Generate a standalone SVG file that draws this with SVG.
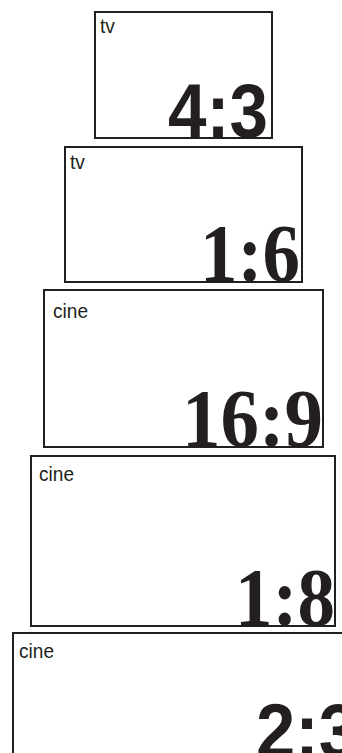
<svg xmlns="http://www.w3.org/2000/svg" width="342" height="753" viewBox="0 0 342 753">
<style>
.frame{fill:#fff;stroke:#231f20;stroke-width:2}
.lbl{font-family:"Liberation Sans Narrow","Liberation Sans",sans-serif;font-size:21px;fill:#231f20}
.big{font-family:"Liberation Sans",Arial,sans-serif;font-weight:bold;font-size:76px;fill:#231f20;text-anchor:end}
.bigs{font-family:"Liberation Serif","Times New Roman",serif;font-weight:bold;font-size:82px;fill:#231f20;text-anchor:end}
</style>
<rect width="342" height="753" fill="#fff"/>
<g id="tv43">
<rect class="frame" x="95" y="12" width="177" height="126"/>
<text class="lbl" x="100" y="33" textLength="15" lengthAdjust="spacingAndGlyphs">tv</text>
<text class="big" x="268" y="137" textLength="100" lengthAdjust="spacingAndGlyphs">4:3</text>
</g>
<g id="tv16">
<rect class="frame" x="65" y="147" width="237" height="135"/>
<text class="lbl" x="70" y="169" textLength="15" lengthAdjust="spacingAndGlyphs">tv</text>
<text class="bigs" x="300" y="281" textLength="100" lengthAdjust="spacingAndGlyphs">1:6</text>
</g>
<g id="cine169">
<rect class="frame" x="44" y="290" width="279" height="157"/>
<text class="lbl" x="53" y="318" textLength="35" lengthAdjust="spacingAndGlyphs">cine</text>
<text class="bigs" x="323" y="446" textLength="141" lengthAdjust="spacingAndGlyphs">16:9</text>
</g>
<g id="cine18">
<rect class="frame" x="31" y="456" width="304" height="170"/>
<text class="lbl" x="39" y="481" textLength="35" lengthAdjust="spacingAndGlyphs">cine</text>
<text class="bigs" x="335" y="625" textLength="100" lengthAdjust="spacingAndGlyphs">1:8</text>
</g>
<g id="cine23">
<rect class="frame" x="13" y="633" width="345" height="140"/>
<text class="lbl" x="19" y="658" textLength="35" lengthAdjust="spacingAndGlyphs">cine</text>
<text class="big" x="358" y="757" textLength="102" lengthAdjust="spacingAndGlyphs">2:3</text>
</g>
<g id="connectors"></g>
</svg>
